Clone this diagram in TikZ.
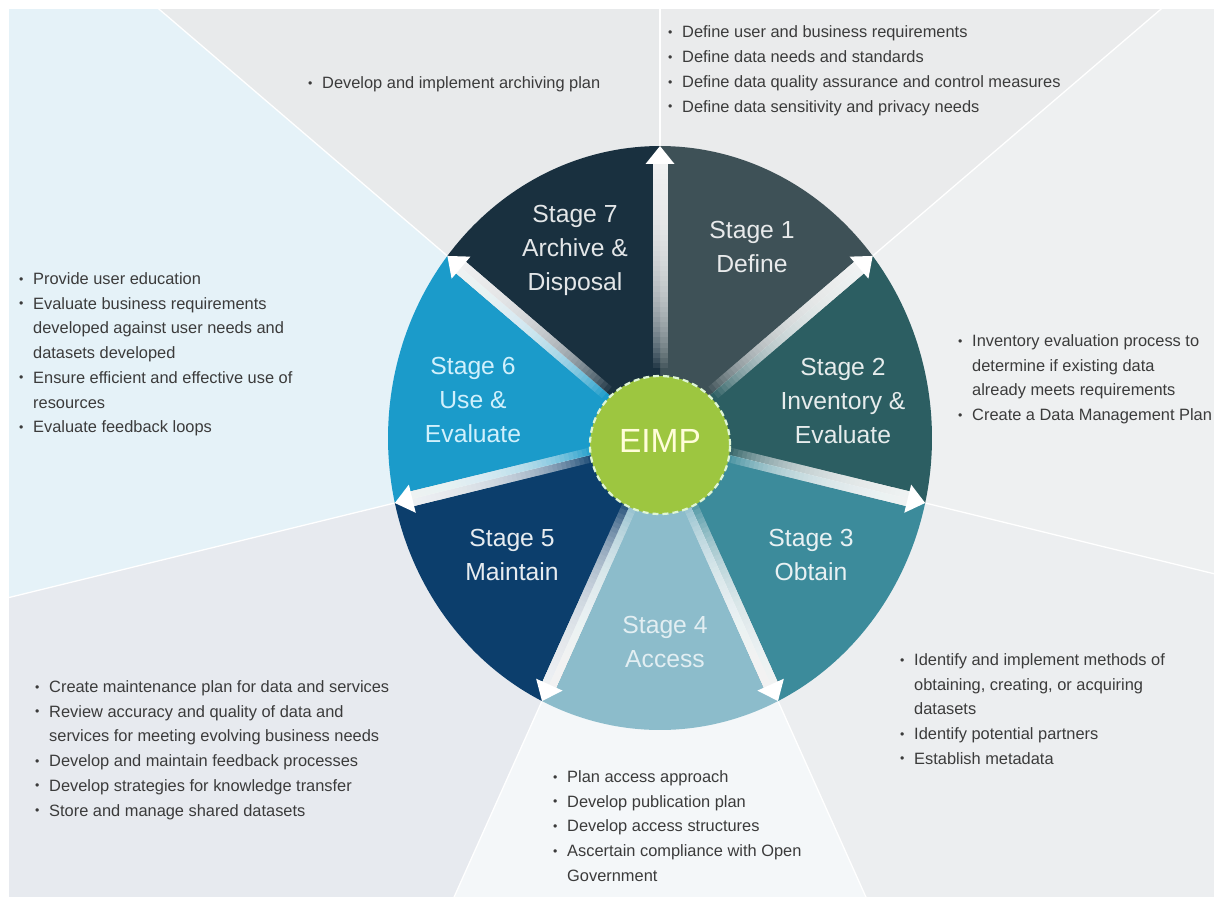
\documentclass[tikz,border=0pt]{standalone}
\usepackage{fontspec}
\setmainfont{Liberation Sans}
\usepackage{graphicx}
\definecolor{bgA}{HTML}{E8EAEB}
\definecolor{bgB}{HTML}{EAEBEC}
\definecolor{bgC}{HTML}{EEF0F1}
\definecolor{bgD}{HTML}{ECEEF0}
\definecolor{bgE}{HTML}{F4F7F9}
\definecolor{bgF}{HTML}{E7EAEF}
\definecolor{bgG}{HTML}{E5F2F8}
\definecolor{sA}{HTML}{3E5157}
\definecolor{sB}{HTML}{2C5E62}
\definecolor{sC}{HTML}{3C8B9B}
\definecolor{sD}{HTML}{8CBCCB}
\definecolor{sE}{HTML}{0C3E6C}
\definecolor{sF}{HTML}{1B9BCA}
\definecolor{sG}{HTML}{19303F}
\definecolor{eimpgreen}{HTML}{9DC640}
\definecolor{eimpdash}{HTML}{DFF5D5}
\definecolor{bultext}{HTML}{3B3B3B}
\newcommand\bul{\makebox[9pt][l]{\raisebox{0.08em}{\scalebox{0.75}{•}}}}
\tikzset{
  blist/.style={anchor=base west, inner sep=0pt, text=bultext, font=\fontsize{16.4}{24.7}\selectfont},
  stagelbl/.style={align=center, inner sep=0pt, font=\fontsize{24.7}{34}\selectfont},
}
\begin{document}
\begin{tikzpicture}[x=1pt,y=1pt]
\useasboundingbox (0,0) rectangle (1214,-896);
\fill[white] (0,0) rectangle (1214,-896);
\begin{scope}
\clip (9,-10) rectangle (1214,-896);
\begin{scope}[shift={(660,-438)}, x=272pt, y=292pt]
  \fill[bgA] (0,0) -- (90:5) -- (141.4286:5) -- cycle;
  \fill[bgB] (0,0) -- (38.5714:5) -- (90:5) -- cycle;
  \fill[bgC] (0,0) -- (-12.8571:5) -- (38.5714:5) -- cycle;
  \fill[bgD] (0,0) -- (-64.2857:5) -- (-12.8571:5) -- cycle;
  \fill[bgE] (0,0) -- (-115.7143:5) -- (-64.2857:5) -- cycle;
  \fill[bgF] (0,0) -- (-167.1429:5) -- (-115.7143:5) -- cycle;
  \fill[bgG] (0,0) -- (141.4286:5) -- (192.8571:5) -- cycle;
  \foreach \a in {90,38.5714,-12.8571,-64.2857,-115.7143,-167.1429,141.4286}
    \draw[white, line width=1.3pt] (0,0) -- (\a:5);
  % disk segments
  \fill[sA] (0,0) -- plot[domain=38.5714:90, samples=40] (\x:1) -- cycle;
  \fill[sB] (0,0) -- plot[domain=-12.8571:38.5714, samples=40] (\x:1) -- cycle;
  \fill[sC] (0,0) -- plot[domain=-64.2857:-12.8571, samples=40] (\x:1) -- cycle;
  \fill[sD] (0,0) -- plot[domain=-115.7143:-64.2857, samples=40] (\x:1) -- cycle;
  \fill[sE] (0,0) -- plot[domain=-167.1429:-115.7143, samples=40] (\x:1) -- cycle;
  \fill[sF] (0,0) -- plot[domain=141.4286:192.8571, samples=40] (\x:1) -- cycle;
  \fill[sG] (0,0) -- plot[domain=90:141.4286, samples=40] (\x:1) -- cycle;
\end{scope}
\end{scope}
% arrows
\foreach \a in {90,38.5714,-12.8571,-64.2857,-115.7143,-167.1429,141.4286}{
  \pgfmathsetmacro\cx{272*cos(\a)}
  \pgfmathsetmacro\cy{292*sin(\a)}
  \pgfmathsetmacro\ang{atan2(\cy,\cx)}
  \pgfmathsetmacro\len{100*veclen(\cx/100,\cy/100)}
  \pgfmathsetmacro\sh{\len-70}
  \begin{scope}[shift={(660+\cx,-438+\cy)}, rotate=\ang]
    \foreach \i in {0,...,39}{
      \pgfmathsetmacro\xs{-\sh+\i*(\sh-18)/40}
      \fill[white, fill opacity=0.075] (\xs,-7.5) rectangle (-17.5,7.5);
    }
    \fill[white] (0,0) -- (-18,14.5) -- (-18,-14.5) -- cycle;
  \end{scope}
}
% centre
\fill[eimpgreen] (660,-445) ellipse [x radius=70pt, y radius=69pt];
\draw[eimpdash, line width=2.2pt, dash pattern=on 6pt off 4pt] (660,-445) ellipse [x radius=70pt, y radius=69pt];
\node[font=\fontsize{33.5}{36}\selectfont, text=white!85!yellow, inner sep=0pt] (eimp) at (660,-441) {EIMP};
% stage labels
\node[stagelbl, text=white!88!sG] (s7) at (575,-250) {Stage 7\\Archive \&\\Disposal};
\node[stagelbl, text=white!88!sA] (s1) at (752,-247) {Stage 1\\Define};
\node[stagelbl, text=white!88!sB] (s2) at (843,-401) {Stage 2\\Inventory \&\\Evaluate};
\node[stagelbl, text=white!82!cyan] (s6) at (473,-400) {Stage 6\\Use \&\\Evaluate};
\node[stagelbl, text=white!90!sE] (s5) at (512,-555) {Stage 5\\Maintain};
\node[stagelbl, text=white!88!sC] (s3) at (811,-555) {Stage 3\\Obtain};
\node[stagelbl, text=white!75!sD] (s4) at (665,-642) {Stage 4\\Access};
% bullet lists
\node[blist] (l1) at (668,-38) {\begin{tabular}[t]{@{}l@{\hspace{5pt}}l@{}}
\bul & Define user and business requirements\\
\bul & Define data needs and standards\\
\bul & Define data quality assurance and control measures\\
\bul & Define data sensitivity and privacy needs
\end{tabular}};
\node[blist] (l7) at (308,-88.5) {\begin{tabular}[t]{@{}l@{\hspace{5pt}}l@{}}
\bul & Develop and implement archiving plan
\end{tabular}};
\node[blist] (l6) at (19,-284.5) {\begin{tabular}[t]{@{}l@{\hspace{5pt}}l@{}}
\bul & Provide user education\\
\bul & Evaluate business requirements\\
 & developed against user needs and\\
 & datasets developed\\
\bul & Ensure efficient and effective use of\\
 & resources\\
\bul & Evaluate feedback loops
\end{tabular}};
\node[blist] (l2) at (958,-346.5) {\begin{tabular}[t]{@{}l@{\hspace{5pt}}l@{}}
\bul & Inventory evaluation process to\\
 & determine if existing data\\
 & already meets requirements\\
\bul & Create a Data Management Plan
\end{tabular}};
\node[blist] (l3) at (900,-665.5) {\begin{tabular}[t]{@{}l@{\hspace{5pt}}l@{}}
\bul & Identify and implement methods of\\
 & obtaining, creating, or acquiring\\
 & datasets\\
\bul & Identify potential partners\\
\bul & Establish metadata
\end{tabular}};
\node[blist] (l5) at (35,-692.5) {\begin{tabular}[t]{@{}l@{\hspace{5pt}}l@{}}
\bul & Create maintenance plan for data and services\\
\bul & Review accuracy and quality of data and\\
 & services for meeting evolving business needs\\
\bul & Develop and maintain feedback processes\\
\bul & Develop strategies for knowledge transfer\\
\bul & Store and manage shared datasets
\end{tabular}};
\node[blist] (l4) at (553,-782.5) {\begin{tabular}[t]{@{}l@{\hspace{5pt}}l@{}}
\bul & Plan access approach\\
\bul & Develop publication plan\\
\bul & Develop access structures\\
\bul & Ascertain compliance with Open\\
 & Government
\end{tabular}};
\end{tikzpicture}
\end{document}
